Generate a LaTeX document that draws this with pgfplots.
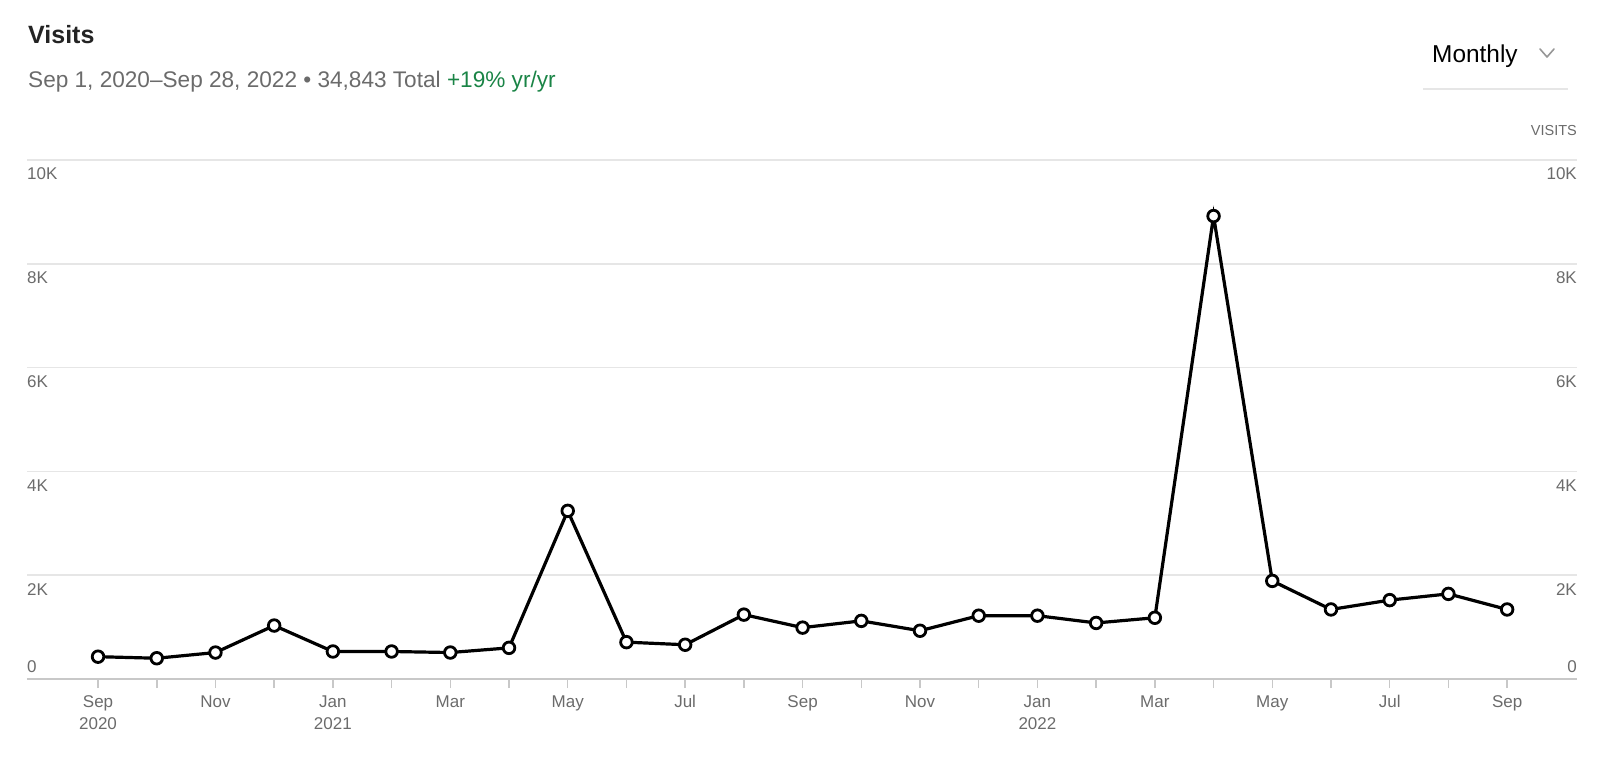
\documentclass[border=0pt]{standalone}
\usepackage{pgfplots}
\pgfplotsset{compat=1.18}
\usepackage{fontspec}
\setmainfont{Liberation Sans}
\definecolor{titlec}{HTML}{242424}
\definecolor{subc}{HTML}{6B6B6B}
\definecolor{greenc}{HTML}{1A8446}
\definecolor{gridc}{HTML}{E6E6E6}
\definecolor{basec}{HTML}{C8C8C8}
\definecolor{tickc}{HTML}{6B6B6B}
\tikzset{tl/.style={inner sep=0, text=tickc, font=\fontsize{17}{20}\selectfont}}
\begin{document}
\begin{tikzpicture}[x=1pt,y=1pt]
\path[use as bounding box] (0,0) rectangle (1600,761);
% header
\node[anchor=base west, inner sep=0, text=titlec, font=\fontsize{25}{29}\selectfont\bfseries] at (28,717) {Visits};
\node[anchor=base west, inner sep=0, text=subc, font=\fontsize{22.6}{26}\selectfont] at (28,673) {Sep 1, 2020–Sep 28, 2022 • 34,843 Total \textcolor{greenc}{+19\% yr/yr}};
\node[anchor=base west, inner sep=0, text=black, font=\fontsize{24.4}{28}\selectfont] at (1432,698) {Monthly};
\draw[color=subc!70, line width=1.6pt, line cap=round, line join=round] (1540,712) -- (1547,704) -- (1554,712);
\draw[color=gridc, line width=1.5pt] (1423,672) -- (1568,672);
\node[anchor=base east, inner sep=0, text=subc, font=\fontsize{14.5}{17}\selectfont] at (1577,625) {VISITS};
\begin{axis}[
  at={(27pt,82pt)}, anchor=south west,
  scale only axis, width=1550pt, height=519pt,
  xmin=-1.21, xmax=25.19, ymin=0, ymax=10000,
  scaled y ticks=false,
  axis x line*=bottom, axis y line*=left,
  x axis line style={draw=basec, line width=1.5pt, -},
  y axis line style={draw=none},
  xtick={0,...,24},
  xticklabels={Sep,,Nov,,Jan,,Mar,,May,,Jul,,Sep,,Nov,,Jan,,Mar,,May,,Jul,,Sep},
  xticklabel style={anchor=base, yshift=-19pt, text=tickc, font=\fontsize{17}{20}\selectfont},
  tick align=outside,
  major tick length=9pt,
  xtick style={draw=basec, line width=1.5pt},
  ytick={0,2000,4000,6000,8000,10000},
  yticklabels={},
  ytick style={draw=none},
  ymajorgrids,
  major grid style={draw=gridc, line width=1.5pt},
  clip=false,
]
\addplot[black, line width=3.2pt, mark=*, mark size=5.8pt,
  mark options={fill=white, draw=black, line width=2.8pt}]
coordinates {
(0,430) (1,400) (2,510) (3,1030) (4,530) (5,530) (6,510) (7,600)
(8,3240) (9,710) (10,660) (11,1240) (12,990) (13,1120) (14,930) (15,1220)
(16,1220) (17,1080) (18,1180) (19,8920) (20,1890) (21,1340) (22,1520)
(23,1640) (24,1340)
};
% year labels
\node[tl, anchor=base, yshift=-50pt] at (axis cs:0,0) {2020};
\node[tl, anchor=base, yshift=-50pt] at (axis cs:4,0) {2021};
\node[tl, anchor=base, yshift=-50pt] at (axis cs:16,0) {2022};
% y labels left and right
\node[tl, anchor=base west, yshift=-20pt] at (rel axis cs:0,0.2) {2K};
\node[tl, anchor=base west, yshift=-20pt] at (rel axis cs:0,0.4) {4K};
\node[tl, anchor=base west, yshift=-20pt] at (rel axis cs:0,0.6) {6K};
\node[tl, anchor=base west, yshift=-20pt] at (rel axis cs:0,0.8) {8K};
\node[tl, anchor=base west, yshift=-20pt] at (rel axis cs:0,1) {10K};
\node[tl, anchor=base east, yshift=-20pt] at (rel axis cs:1,0.2) {2K};
\node[tl, anchor=base east, yshift=-20pt] at (rel axis cs:1,0.4) {4K};
\node[tl, anchor=base east, yshift=-20pt] at (rel axis cs:1,0.6) {6K};
\node[tl, anchor=base east, yshift=-20pt] at (rel axis cs:1,0.8) {8K};
\node[tl, anchor=base east, yshift=-20pt] at (rel axis cs:1,1) {10K};
\node[tl, anchor=base west, yshift=7pt] at (rel axis cs:0,0) {0};
\node[tl, anchor=base east, yshift=7pt] at (rel axis cs:1,0) {0};
\end{axis}
\end{tikzpicture}
\end{document}
